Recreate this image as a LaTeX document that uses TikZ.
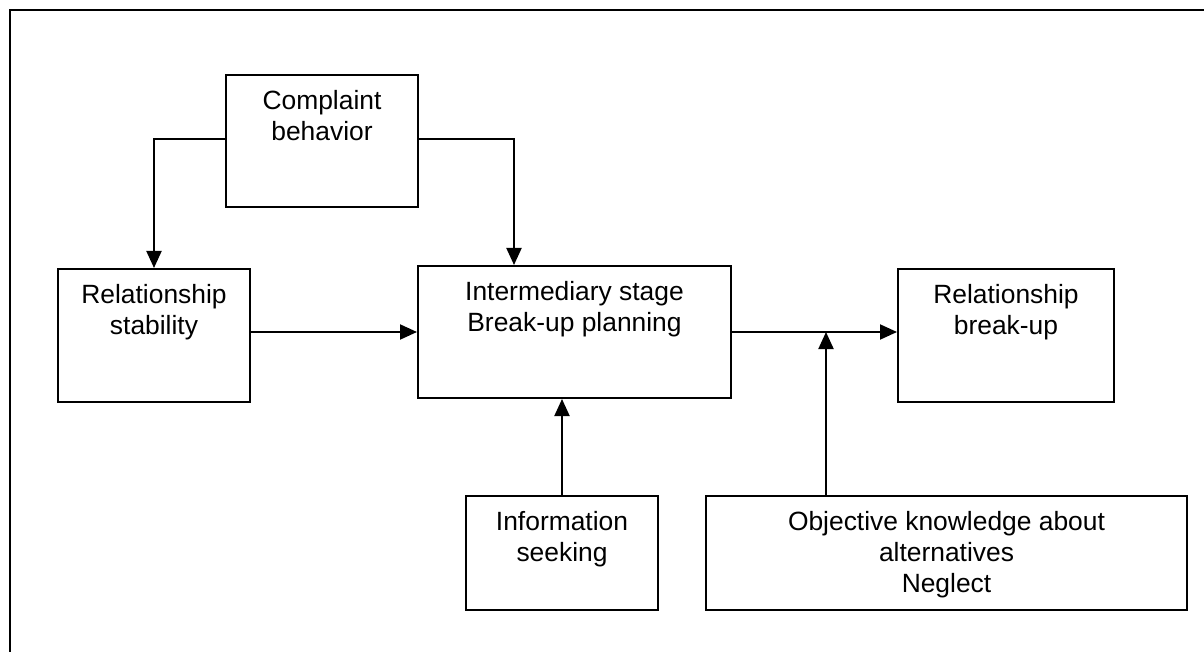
\documentclass[tikz,border=0pt]{standalone}
\usepackage{fontspec}
\setmainfont{Liberation Sans}
\usetikzlibrary{arrows.meta}
\tikzset{
  box/.style={draw=black, line width=1pt, rectangle, inner sep=0pt, fill=white},
  lbl/.style={anchor=north, align=center, inner sep=0pt, font=\fontsize{13.2pt}{15.5pt}\selectfont},
  arr/.style={line width=1pt, -{Triangle[width=7.5pt,length=8.5pt]}}
}
\begin{document}
\begin{tikzpicture}[x=0.5pt,y=-0.5pt]
\useasboundingbox (0,0) rectangle (1204,652);
\clip (0,0) rectangle (1204,652);
\fill[white] (0,0) rectangle (1204,652);
\draw[line width=1pt] (10,10) rectangle (1240,690);

% boxes
\node[box, minimum width=96pt, minimum height=66pt] (cb) at (322,141) {};
\node[box, minimum width=96pt, minimum height=66.5pt] (rs) at (154,335.5) {};
\node[box, minimum width=156.5pt, minimum height=66pt] (im) at (574.5,332) {};
\node[box, minimum width=108pt, minimum height=66.5pt] (bu) at (1006,335.5) {};
\node[box, minimum width=96pt, minimum height=57pt] (is) at (562,553) {};
\node[box, minimum width=240.5pt, minimum height=57pt] (ob) at (946.5,553) {};

% texts
\node[lbl] (cbt) at ([yshift=-8pt]cb.north) {Complaint\\behavior};
\node[lbl] (rst) at ([yshift=-8pt]rs.north) {Relationship\\stability};
\node[lbl] (imt) at ([yshift=-8pt]im.north) {Intermediary stage\\Break-up planning};
\node[lbl] (but) at ([yshift=-8pt]bu.north) {Relationship\\break-up};
\node[lbl] (ist) at ([yshift=-8pt]is.north) {Information\\seeking};
\node[lbl] (obt) at ([yshift=-8pt]ob.north) {Objective knowledge about\\alternatives\\Neglect};

% connectors
\draw[arr] ([yshift=1pt]cb.west) -| (rs.north);
\draw[arr] ([yshift=1pt]cb.east) -| ([xshift=-30.25pt]im.north);
\draw[arr] (rs.east |- im.west) -- (im.west);
\draw[arr] (im.east) -- (im.east -| bu.west);
\draw[arr] (is.north) -- (is.north |- im.south);
\draw[arr] ([xshift=-60.25pt]ob.north) -- ([xshift=-60.25pt]ob.north |- im.east);
\end{tikzpicture}
\end{document}
